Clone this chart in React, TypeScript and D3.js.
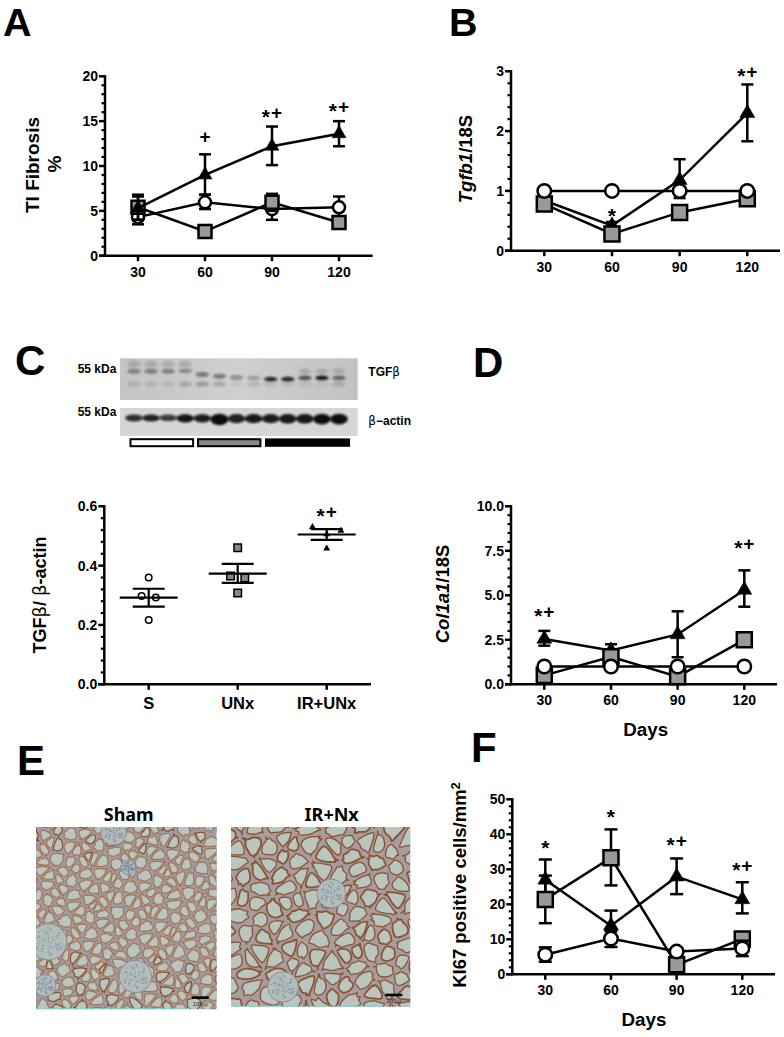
import React, { useMemo } from "react";
import * as d3 from "d3";

// ---------- data ----------
const days = [30, 60, 90, 120];

const aCircle = [4.3, 5.95, 5.2, 5.4];
const aCircleLo = [3.5, 5.2, 4.0, 4.3];
const aCircleHi = [5.1, 6.8, 6.3, 6.6];
const aSquare = [5.4, 2.7, 5.95, 3.7];
const aSquareLo = [4.0, 2.0, 5.0, 3.2];
const aSquareHi = [6.8, 3.4, 6.9, 4.2];
const aTriangle = [5.3, 9.0, 12.2, 13.6];
const aTriangleLo = [4.0, 6.8, 10.1, 12.2];
const aTriangleHi = [6.6, 11.3, 14.4, 15.0];
const aNotes = [{ day: 60, level: 13.3, text: "+" }, { day: 90, level: 16.0, text: "*+" }, { day: 120, level: 16.7, text: "*+" }];

const bCircle = [1, 1, 1, 1];
const bSquare = [0.78, 0.28, 0.64, 0.87];
const bSquareLo = [0.72, 0.24, 0.6, 0.82];
const bSquareHi = [0.84, 0.32, 0.68, 0.92];
const bTriangle = [0.84, 0.42, 1.18, 2.3];
const bTriangleLo = [0.78, 0.36, 0.88, 1.83];
const bTriangleHi = [0.9, 0.48, 1.53, 2.78];
const bNotes = [{ day: 60, level: 0.66, text: "*" }, { day: 120, level: 3.0, text: "*+" }];

const dCircle = [1, 1, 1, 1];
const dSquare = [0.5, 1.55, 0.43, 2.5];
const dSquareLo = [0.3, 1.2, 0.25, 2.2];
const dSquareHi = [0.7, 1.9, 0.65, 2.8];
const dTriangle = [2.55, 1.9, 2.8, 5.3];
const dTriangleLo = [2.17, 1.55, 1.52, 4.36];
const dTriangleHi = [3.0, 2.25, 4.1, 6.4];
const dNotes = [{ day: 30, level: 4.14, text: "*+" }, { day: 120, level: 7.92, text: "*+" }];

const fCircle = [5.6, 10.2, 6.5, 7.4];
const fCircleLo = [3.6, 7.8, 5.6, 5.2];
const fCircleHi = [7.7, 12.3, 7.4, 9.6];
const fSquare = [21.4, 33.3, 2.7, 10.1];
const fSquareLo = [14.6, 25.4, 1.5, 8.4];
const fSquareHi = [28.2, 41.4, 3.9, 11.8];
const fTriangle = [27, 13.9, 27.9, 21.4];
const fTriangleLo = [21.2, 12.7, 22.9, 17.4];
const fTriangleHi = [32.8, 18.2, 33.1, 26.3];
const fNotes = [{ day: 30, level: 37.6, text: "*" }, { day: 60, level: 46.5, text: "*" }, { day: 90, level: 38.4, text: "*+" }, { day: 120, level: 31.2, text: "*+" }];

const cCategories = ["S", "UNx", "IR+UNx"];
const cSham = [0.36, 0.298, 0.293, 0.217];
const cShamJitter = [0, -0.08, 0.08, 0];
const cUnx = [0.46, 0.365, 0.358, 0.308];
const cUnxJitter = [0, -0.08, 0.08, 0];
const cIr = [0.53, 0.518, 0.506, 0.458];
const cIrJitter = [-0.16, 0.16, 0, 0];
const cMeans = [0.292, 0.373, 0.505];
const cErrLo = [0.262, 0.342, 0.487];
const cErrHi = [0.322, 0.406, 0.523];

// western blot: lane darkness (0..1)
const tgfUpper = [0.4, 0.42, 0.42, 0.36, 0.48, 0.45, 0.34, 0.24, 0.85, 0.88, 0.65, 0.95, 0.55];
const tgfUpperPos = [0.31, 0.31, 0.31, 0.3, 0.39, 0.43, 0.46, 0.47, 0.5, 0.5, 0.47, 0.47, 0.47];
const tgfLower = [0.16, 0.14, 0.12, 0.25, 0.32, 0.24, 0.06, 0.16, 0.12, 0.12, 0.1, 0.08, 0.18];
const actinDark = [0.85, 0.9, 0.78, 0.96, 0.92, 1, 0.9, 0.95, 0.92, 0.95, 0.95, 1, 1];
const actinHeight = [0.72, 0.72, 0.68, 0.85, 0.85, 1.2, 0.95, 0.95, 0.95, 1.0, 1.0, 1.1, 1.1];

// approximate glomeruli of the two micrographs, fraction of the image
const shamGlomeruli = [[0.07, 0.63, 0.1], [0.55, 0.82, 0.09], [0.05, 0.87, 0.06], [0.43, 0.03, 0.07], [0.51, 0.22, 0.04]];
const irGlomeruli = [[0.29, 0.89, 0.085], [0.56, 0.37, 0.08]];

// ---------- drawing helpers ----------
const SANS = "'Liberation Sans', Arial, sans-serif";
const LINE = 2.5;
const tri = (s: number) => d3.symbol().type(d3.symbolTriangle).size((s * s * Math.sqrt(3)) / 4)() as string;
const sq = (s: number) => d3.symbol().type(d3.symbolSquare).size(s * s)() as string;
const cir = (d: number) => d3.symbol().type(d3.symbolCircle).size((Math.PI * d * d) / 4)() as string;

function YAxis({ y, left, ticks, fmt, minorPer }: any) {
  const t0 = ticks[0], t1 = ticks[ticks.length - 1];
  const step = ticks[1] - ticks[0];
  const minors = d3.range(0, ticks.length - 1).flatMap((i) => d3.range(1, minorPer).map((k) => ticks[i] + (step * k) / minorPer));
  return (
    <g>
      <line x1={left} x2={left} y1={y(t0) + 1} y2={y(t1) - 1.2} stroke="#000" strokeWidth={LINE} />
      {ticks.map((t: number) => (
        <g key={t}>
          <line x1={left - 6} x2={left} y1={y(t)} y2={y(t)} stroke="#000" strokeWidth={LINE} />
          <text x={left - 7} y={y(t) + 5} textAnchor="end" fontFamily={SANS} fontWeight={700} fontSize={14}>{fmt(t)}</text>
        </g>
      ))}
      {minors.map((t: number) => (
        <line key={t} x1={left - 3.5} x2={left} y1={y(t)} y2={y(t)} stroke="#000" strokeWidth={2.2} />
      ))}
    </g>
  );
}

function Note({ x, y, text }: any) {
  return (
    <text x={x} y={y + 7} textAnchor="middle" fontFamily={SANS} fontWeight={700} fontSize={19}>
      {text.split("").map((c: string, i: number) =>
        c === "*" ? <tspan key={i} dy={5} fontSize={21}>*</tspan> : <tspan key={i} dy={text.length > 1 ? -5 : 0} dx={text.length > 1 ? 1 : 0}>+</tspan>
      )}
    </text>
  );
}

function LinePanel({ box, yMax, yTicks, fmt, series, notes, marker }: any) {
  const x = d3.scaleLinear().domain([30, 120]).range([box.x30, box.x120]);
  const y = d3.scaleLinear().domain([0, yMax]).range([box.y0, box.yTop]);
  const line = d3.line<number>().x((_, i) => x(days[i])).y((v) => y(v));
  return (
    <g>
      <YAxis y={y} left={box.left} ticks={yTicks} fmt={fmt} minorPer={5} />
      <line x1={box.left - 6} x2={box.right} y1={box.y0} y2={box.y0} stroke="#000" strokeWidth={LINE} />
      {days.map((d) => (
        <g key={d}>
          <line x1={x(d)} x2={x(d)} y1={box.y0} y2={box.y0 + 5.5} stroke="#000" strokeWidth={LINE} />
          <text x={x(d)} y={box.y0 + 21} textAnchor="middle" fontFamily={SANS} fontWeight={700} fontSize={14}>{d}</text>
        </g>
      ))}
      {series.map((s: any) => (
        <g key={s.kind}>
          <path d={line(s.values) as string} fill="none" stroke="#000" strokeWidth={LINE} />
          {s.lo && s.values.map((_: number, i: number) => (
            <g key={i} stroke="#000" strokeWidth={LINE}>
              <line x1={x(days[i])} x2={x(days[i])} y1={y(s.lo[i])} y2={y(s.hi[i])} />
              <line x1={x(days[i]) - marker.cap} x2={x(days[i]) + marker.cap} y1={y(s.lo[i])} y2={y(s.lo[i])} />
              <line x1={x(days[i]) - marker.cap} x2={x(days[i]) + marker.cap} y1={y(s.hi[i])} y2={y(s.hi[i])} />
            </g>
          ))}
          {s.values.map((v: number, i: number) => (
            <path key={i} transform={`translate(${x(days[i])},${y(v)})`}
              d={s.kind === "c" ? cir(marker.c) : s.kind === "s" ? sq(marker.s) : tri(marker.t)}
              fill={s.kind === "c" ? "#fff" : s.kind === "s" ? "#999" : "#000"}
              stroke="#000" strokeWidth={s.kind === "t" ? 0.5 : LINE} />
          ))}
        </g>
      ))}
      {notes.map((n: any, i: number) => <Note key={i} x={x(n.day)} y={y(n.level)} text={n.text} />)}
    </g>
  );
}

function ScatterPanel() {
  const x = d3.scalePoint<string>().domain(cCategories).range([148.7, 326.7]);
  const y = d3.scaleLinear().domain([0, 0.6]).range([684.3, 506.3]);
  const step = x.step();
  const groups = [
    { vals: cSham, jit: cShamJitter, kind: "c" },
    { vals: cUnx, jit: cUnxJitter, kind: "s" },
    { vals: cIr, jit: cIrJitter, kind: "t" },
  ];
  return (
    <g>
      <YAxis y={y} left={104.3} ticks={[0, 0.2, 0.4, 0.6]} fmt={(t: number) => t.toFixed(1)} minorPer={5} />
      <line x1={98} x2={371} y1={y(0)} y2={y(0)} stroke="#000" strokeWidth={LINE} />
      {cCategories.map((c) => (
        <g key={c}>
          <line x1={x(c)!} x2={x(c)!} y1={y(0)} y2={y(0) + 5.5} stroke="#000" strokeWidth={LINE} />
          <text x={x(c)!} y={y(0) + 25} textAnchor="middle" fontFamily={SANS} fontWeight={700} fontSize={16.5}>{c}</text>
        </g>
      ))}
      {groups.map((g, gi) => {
        const cx = x(cCategories[gi])!;
        return (
          <g key={gi}>
            {g.vals.map((v, i) => (
              <path key={i} transform={`translate(${cx + g.jit[i] * step},${y(v)})`}
                d={g.kind === "c" ? cir(6.5) : g.kind === "s" ? sq(7.5) : tri(7)}
                fill={g.kind === "c" ? "#fff" : g.kind === "s" ? "#888" : "#000"}
                stroke={g.kind === "t" ? "none" : "#000"} strokeWidth={1.5} />
            ))}
            <g stroke="#000" strokeWidth={2.2}>
              <line x1={cx - 29} x2={cx + 29} y1={y(cMeans[gi])} y2={y(cMeans[gi])} />
              <line x1={cx} x2={cx} y1={y(cErrLo[gi])} y2={y(cErrHi[gi])} />
              <line x1={cx - 16} x2={cx + 16} y1={y(cErrLo[gi])} y2={y(cErrLo[gi])} />
              <line x1={cx - 16} x2={cx + 16} y1={y(cErrHi[gi])} y2={y(cErrHi[gi])} />
            </g>
          </g>
        );
      })}
      <Note x={x("IR+UNx")!} y={y(0.583)} text="*+" />
    </g>
  );
}

function Blot() {
  const lane = d3.scaleLinear().domain([0, 12]).range([134, 339]);
  const topBox = { x: 120, y: 358.3, width: 237.7, height: 41.7 };
  const lowBox = { x: 120, y: 408, width: 237.7, height: 28 };
  return (
    <g>
      <rect {...topBox} fill="url(#blotTop)" />
      <rect {...lowBox} fill="#d6d6d6" />
      <g filter="url(#blur1)" clipPath="url(#blotClipTop)">
        {tgfUpper.map((d, i) => (
          <g key={i}>
            <ellipse cx={lane(i)} cy={topBox.y + tgfUpperPos[i] * topBox.height} rx={6.6} ry={2.4} fill="#111" opacity={d} />
            {i < 4 && <ellipse cx={lane(i)} cy={topBox.y + 6} rx={6.6} ry={3.5} fill="#555" opacity={0.25} />}
            {i > 9 && <ellipse cx={lane(i)} cy={topBox.y + 13} rx={6} ry={3} fill="#555" opacity={0.25} />}
            <ellipse cx={lane(i)} cy={topBox.y + 0.62 * topBox.height} rx={6.4} ry={2.6} fill="#333" opacity={tgfLower[i]} />
          </g>
        ))}
      </g>
      <g filter="url(#blur1)">
        {actinDark.map((d, i) => (
          <ellipse key={i} cx={lane(i)} cy={lowBox.y + 10.5 + (actinHeight[i] - 0.9) * 3} rx={8.8} ry={4.8 * actinHeight[i]} fill="#0a0a0a" opacity={d} />
        ))}
      </g>
      <rect x={130.5} y={439.2} width={62.6} height={7} fill="#fff" stroke="#000" strokeWidth={2} />
      <rect x={198} y={439.2} width={62.4} height={7} fill="#888" stroke="#000" strokeWidth={2} />
      <rect x={265} y={438.4} width={85} height={8.4} fill="#000" />
      <g fontFamily={SANS} fontWeight={700} fontSize={12}>
        <text x={77.7} y={373}>55 kDa</text>
        <text x={77.7} y={416}>55 kDa</text>
        <text x={368.3} y={376}>TGF<tspan fontFamily="'DejaVu Sans'" fontWeight={400}>β</tspan></text>
        <text x={368.3} y={425}><tspan fontFamily="'DejaVu Sans'" fontWeight={400}>β</tspan>−actin</text>
      </g>
    </g>
  );
}

function Micrograph({ box, count, glom, strong, id }: any) {
  const { cells, dots } = useMemo(() => {
    // low-discrepancy (non-random) point set for the tubule texture
    const pts: [number, number][] = d3.range(count).map((i) => {
      const u = (i * 0.7548776662 + 0.31) % 1;
      const v = (i * 0.5698402909 + 0.17) % 1;
      return [
        box.x - 8 + (box.w + 16) * u + 4 * Math.sin(i * 1.7),
        box.y - 8 + (box.h + 16) * v + 4 * Math.cos(i * 2.3),
      ];
    });
    const vor = d3.Delaunay.from(pts).voronoi([box.x - 16, box.y - 16, box.x + box.w + 16, box.y + box.h + 16]);
    const gen = d3.line().curve(d3.curveCatmullRomClosed.alpha(0.5));
    const cells = pts.map((p, i) => {
      const poly = vor.cellPolygon(i);
      if (!poly) return "";
      const c = d3.polygonCentroid(poly as any);
      const ring = poly.slice(0, -1) as number[][];
      const shape: number[][] = [];
      ring.forEach((q, j) => {
        const n = ring[(j + 1) % ring.length];
        const bulge = 0.84 + 0.06 * Math.sin(i * 1.3 + j * 2.1);
        const corner = 0.66 + 0.05 * Math.sin(i * 0.9 + j);
        shape.push([c[0] + (q[0] - c[0]) * corner, c[1] + (q[1] - c[1]) * corner]);
        const mx = (q[0] + n[0]) / 2, my = (q[1] + n[1]) / 2;
        shape.push([c[0] + (mx - c[0]) * bulge, c[1] + (my - c[1]) * bulge]);
      });
      return gen(shape as any) as string;
    });
    const dots = d3.range(70).map((i) => [(i * 0.381966 + (i % 7) * 0.13) % 1, (i * 0.2113 + (i % 5) * 0.17) % 1]);
    return { cells, dots };
  }, []);
  return (
    <g clipPath={`url(#${id})`}>
      <rect x={box.x} y={box.y} width={box.w} height={box.h} fill={strong ? "#a89c9c" : "#a39aa6"} />
      <g filter="url(#blur05)">
        {cells.map((d, i) => (
          <path key={i} d={d} fill="#b8c6bf"
            stroke={i % 7 === 0 ? "#8a4d28" : strong ? "#8a5233" : "#a57450"}
            strokeWidth={strong ? (i % 3 === 0 ? 1.8 : 1.3) : 1.2} />
        ))}
        {glom.map((g: number[], i: number) => {
          const cx = box.x + g[0] * box.w, cy = box.y + g[1] * box.h, r = g[2] * box.w;
          return (
            <g key={i}>
              <circle cx={cx} cy={cy} r={r} fill="#b1bfbb" stroke="#8e8aa0" strokeWidth={1} />
              {dots.map((p, j) => {
                const ang = p[0] * 2 * Math.PI, rr = Math.sqrt(p[1]) * r * 0.8;
                return <circle key={j} cx={cx + rr * Math.cos(ang)} cy={cy + rr * Math.sin(ang)} r={0.7} fill="#6f6f9a" opacity={0.6} />;
              })}
            </g>
          );
        })}
      </g>
      <line x1={box.x} x2={box.x + box.w * 0.85} y1={box.y + box.h - 0.5} y2={box.y + box.h - 0.5} stroke="#73dbdb" strokeWidth={1} />
      <rect x={box.x + box.w - 25} y={box.y + box.h - 13} width={17} height={2.6} fill="#000" />
      <text x={box.x + box.w - 16.5} y={box.y + box.h - 3.5} textAnchor="middle" fontFamily={SANS} fontSize={6} fill="#222">100 µ</text>
    </g>
  );
}

const shamBox = { x: 36, y: 827, w: 180.7, h: 182.3 };
const irBox = { x: 231, y: 827, w: 179.3, h: 179.7 };

export default function App() {
  const f0 = (t: number) => String(t);
  const f1 = (t: number) => t.toFixed(1);
  const beta = (t: string, k: string) => <tspan key={k} fontFamily="'DejaVu Sans'" fontWeight={400}>{t}</tspan>;
  return (
    <svg width={784} height={1037} style={{ position: "absolute", left: 0, top: 0, display: "block", background: "#fff" }}>
      <defs>
        <filter id="blur1" x="-10%" y="-30%" width="120%" height="160%"><feGaussianBlur stdDeviation={1.2} /></filter>
        <filter id="blur05"><feGaussianBlur stdDeviation={0.45} /></filter>
        <linearGradient id="blotTop" x1="0" x2="1" y1="0" y2="0">
          <stop offset="0" stopColor="#c4c4c4" /><stop offset="0.5" stopColor="#cfcfcf" /><stop offset="1" stopColor="#c2c2c2" />
        </linearGradient>
        <clipPath id="blotClipTop"><rect x={120} y={358.3} width={237.7} height={41.7} /></clipPath>
        <clipPath id="shamClip"><rect x={shamBox.x} y={shamBox.y} width={shamBox.w} height={shamBox.h} /></clipPath>
        <clipPath id="irClip"><rect x={irBox.x} y={irBox.y} width={irBox.w} height={irBox.h} /></clipPath>
      </defs>

      <g fontFamily={SANS} fontWeight={700} fontSize={42}>
        <text x={3} y={36} fontSize={39.5}>A</text>
        <text x={449} y={36} fontSize={39.5}>B</text>
        <text x={15} y={375}>C</text>
        <text x={473} y={377}>D</text>
        <text x={17} y={775}>E</text>
        <text x={471} y={762}>F</text>
      </g>

      {/* Panel A */}
      <LinePanel box={{ left: 105, right: 372.7, y0: 255.7, yTop: 76.3, x30: 138, x120: 339 }} yMax={20} yTicks={[0, 5, 10, 15, 20]} fmt={f0}
        marker={{ c: 12, s: 13, t: 14, cap: 6 }} notes={aNotes}
        series={[
          { kind: "c", values: aCircle, lo: aCircleLo, hi: aCircleHi },
          { kind: "s", values: aSquare, lo: aSquareLo, hi: aSquareHi },
          { kind: "t", values: aTriangle, lo: aTriangleLo, hi: aTriangleHi },
        ]} />
      <g fontFamily={SANS} fontWeight={700} fontSize={19} textAnchor="middle">
        <text transform="translate(39,165) rotate(-90)">TI Fibrosis</text>
        <text transform="translate(61,164) rotate(-90)">%</text>
      </g>

      {/* Panel B */}
      <LinePanel box={{ left: 511, right: 780, y0: 250.7, yTop: 71.3, x30: 544.3, x120: 747.3 }} yMax={3} yTicks={[0, 1, 2, 3]} fmt={f0}
        marker={{ c: 13.5, s: 15, t: 15, cap: 6 }} notes={bNotes}
        series={[
          { kind: "t", values: bTriangle, lo: bTriangleLo, hi: bTriangleHi },
          { kind: "s", values: bSquare, lo: bSquareLo, hi: bSquareHi },
          { kind: "c", values: bCircle },
        ]} />
      <text transform="translate(471.7,159) rotate(-90)" fontFamily={SANS} fontWeight={700} fontSize={18.5} textAnchor="middle">
        <tspan fontStyle="italic">Tgfb1</tspan>/18S
      </text>

      {/* Panel C */}
      <Blot />
      <ScatterPanel />
      <text transform="translate(46,595) rotate(-90)" fontFamily={SANS} fontWeight={700} fontSize={18} textAnchor="middle">
        TGF{beta("β", "a")}/ {beta("β", "b")}-actin
      </text>

      {/* Panel D */}
      <LinePanel box={{ left: 511, right: 777, y0: 684.3, yTop: 506.3, x30: 544.3, x120: 744.3 }} yMax={10} yTicks={[0, 2.5, 5, 7.5, 10]} fmt={f1}
        marker={{ c: 13.5, s: 15, t: 15, cap: 6 }} notes={dNotes}
        series={[
          { kind: "t", values: dTriangle, lo: dTriangleLo, hi: dTriangleHi },
          { kind: "s", values: dSquare, lo: dSquareLo, hi: dSquareHi },
          { kind: "c", values: dCircle },
        ]} />
      <text transform="translate(449.3,594) rotate(-90)" fontFamily={SANS} fontWeight={700} fontSize={18.5} textAnchor="middle">
        <tspan fontStyle="italic">Col1a1</tspan>/18S
      </text>
      <text x={645.7} y={736} fontFamily={SANS} fontWeight={700} fontSize={18.8} textAnchor="middle">Days</text>

      {/* Panel E */}
      <text x={128.7} y={820.7} fontFamily="'Noto Sans', sans-serif" fontWeight={700} fontSize={18} textAnchor="middle">Sham</text>
      <text x={331.7} y={820.7} fontFamily="'Noto Sans', sans-serif" fontWeight={700} fontSize={18} textAnchor="middle">IR+Nx</text>
      <Micrograph id="shamClip" box={shamBox} count={300} glom={shamGlomeruli} strong={false} />
      <Micrograph id="irClip" box={irBox} count={130} glom={irGlomeruli} strong={true} />

      {/* Panel F */}
      <LinePanel box={{ left: 512.3, right: 775, y0: 974.3, yTop: 799.3, x30: 545.3, x120: 742.3 }} yMax={50} yTicks={[0, 10, 20, 30, 40, 50]} fmt={f0}
        marker={{ c: 13.5, s: 15, t: 15, cap: 6.5 }} notes={fNotes}
        series={[
          { kind: "t", values: fTriangle, lo: fTriangleLo, hi: fTriangleHi },
          { kind: "s", values: fSquare, lo: fSquareLo, hi: fSquareHi },
          { kind: "c", values: fCircle, lo: fCircleLo, hi: fCircleHi },
        ]} />
      <text transform="translate(465.7,885) rotate(-90)" fontFamily={SANS} fontWeight={700} fontSize={18.5} textAnchor="middle">
        KI67 positive cells/mm<tspan dy={-6} fontSize={13}>2</tspan>
      </text>
      <text x={644} y={1026} fontFamily={SANS} fontWeight={700} fontSize={18.8} textAnchor="middle">Days</text>
    </svg>
  );
}
